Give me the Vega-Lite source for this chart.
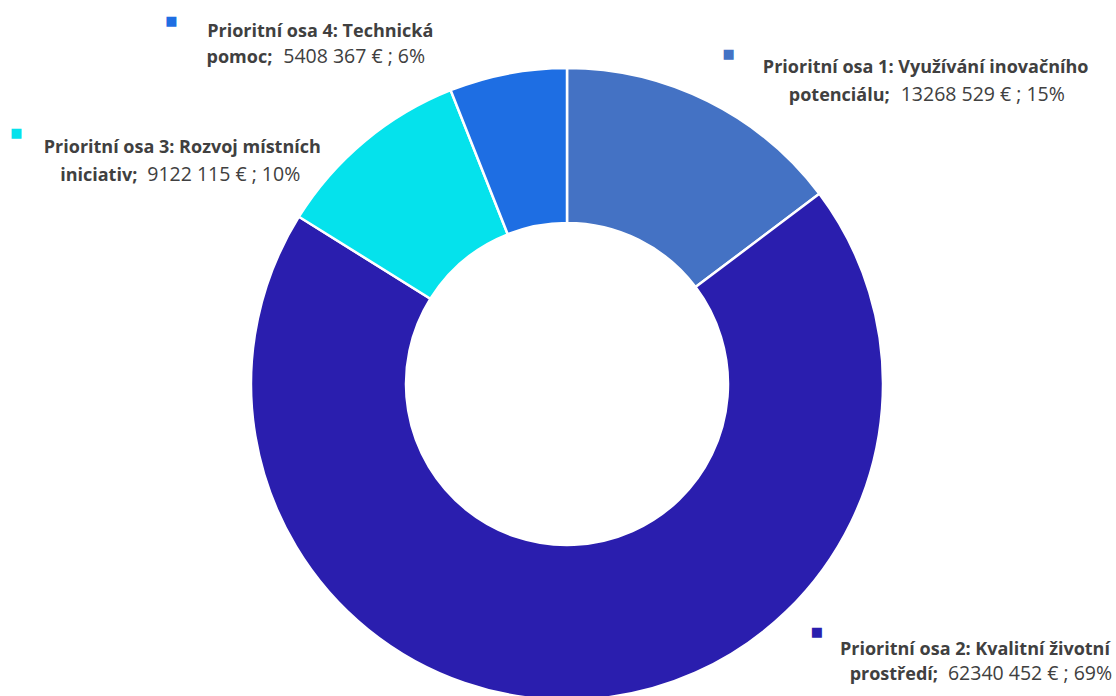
{
  "$schema": "https://vega.github.io/schema/vega-lite/v6.json",
  "width": 1098,
  "height": 624,
  "autosize": {"type": "none"},
  "padding": {"left": 18, "top": 72, "right": 0, "bottom": 0},
  "background": "white",
  "config": {"view": {"stroke": null}},
  "data": {
    "values": [
      {"poradi": 1, "osa": "Prioritní osa 1: Využívání inovačního potenciálu", "castka": 13268529, "radek1": "Prioritní osa 1: Využívání inovačního", "radek2": "potenciálu;", "popis": "13268 529 € ; 15%"},
      {"poradi": 2, "osa": "Prioritní osa 2: Kvalitní životní prostředí", "castka": 62340452, "radek1": "Prioritní osa 2: Kvalitní životní", "radek2": "prostředí;", "popis": "62340 452 € ; 69%"},
      {"poradi": 3, "osa": "Prioritní osa 3: Rozvoj místních iniciativ", "castka": 9122115, "radek1": "Prioritní osa 3: Rozvoj místních", "radek2": "iniciativ;", "popis": "9122 115 € ; 10%"},
      {"poradi": 4, "osa": "Prioritní osa 4: Technická pomoc", "castka": 5408367, "radek1": "Prioritní osa 4: Technická", "radek2": "pomoc;", "popis": "5408 367 € ; 6%"}
    ]
  },
  "encoding": {
    "theta": {"field": "castka", "type": "quantitative", "stack": true},
    "order": {"field": "poradi", "type": "ordinal"}
  },
  "layer": [
    {
      "mark": {"type": "arc", "outerRadius": 316, "innerRadius": 161, "stroke": "white", "strokeWidth": 2.5},
      "encoding": {
        "color": {
          "field": "osa", "type": "nominal", "legend": null,
          "scale": {
            "domain": ["Prioritní osa 1: Využívání inovačního potenciálu", "Prioritní osa 2: Kvalitní životní prostředí", "Prioritní osa 3: Rozvoj místních iniciativ", "Prioritní osa 4: Technická pomoc"],
            "range": ["#4472C4", "#2A1EAE", "#05E2EC", "#1E6EE3"]
          }
        }
      }
    },
    {
      "mark": {"type": "text", "radius": 340, "text": "■", "font": "DejaVu Sans", "fontSize": 13, "align": "center", "baseline": "middle",
        "dx": {"expr": "[10,235,-333,-332][datum.poradi-1]"},
        "dy": {"expr": "[-26,-92,10,-29][datum.poradi-1]"}},
      "encoding": {
        "color": {"field": "osa", "type": "nominal", "legend": null}
      }
    },
    {
      "mark": {"type": "text", "radius": 340, "font": "Open Sans", "fontWeight": "bold", "fontSize": 18, "align": "center", "baseline": "alphabetic",
        "dx": {"expr": "[207,393,-167,-183][datum.poradi-1]"},
        "dy": {"expr": "[-7,-69,30,-13][datum.poradi-1]"}},
      "encoding": {
        "text": {"field": "radek1", "type": "nominal"},
        "detail": {"field": "osa", "type": "nominal"},
        "color": {"value": "#404040"}
      }
    },
    {
      "mark": {"type": "text", "radius": 340, "font": "Open Sans", "fontWeight": "bold", "fontSize": 18, "align": "right", "baseline": "alphabetic",
        "dx": {"expr": "[171,356,-212,-231][datum.poradi-1]"},
        "dy": {"expr": "[21,-44,58,13][datum.poradi-1]"}},
      "encoding": {
        "text": {"field": "radek2", "type": "nominal"},
        "detail": {"field": "osa", "type": "nominal"},
        "color": {"value": "#404040"}
      }
    },
    {
      "mark": {"type": "text", "radius": 340, "font": "Open Sans", "fontWeight": "normal", "fontSize": 19.5, "align": "left", "baseline": "alphabetic",
        "dx": {"expr": "[182,366,-202,-220][datum.poradi-1]"},
        "dy": {"expr": "[21,-44,58,13][datum.poradi-1]"}},
      "encoding": {
        "text": {"field": "popis", "type": "nominal"},
        "detail": {"field": "osa", "type": "nominal"},
        "color": {"value": "#404040"}
      }
    }
  ]
}
